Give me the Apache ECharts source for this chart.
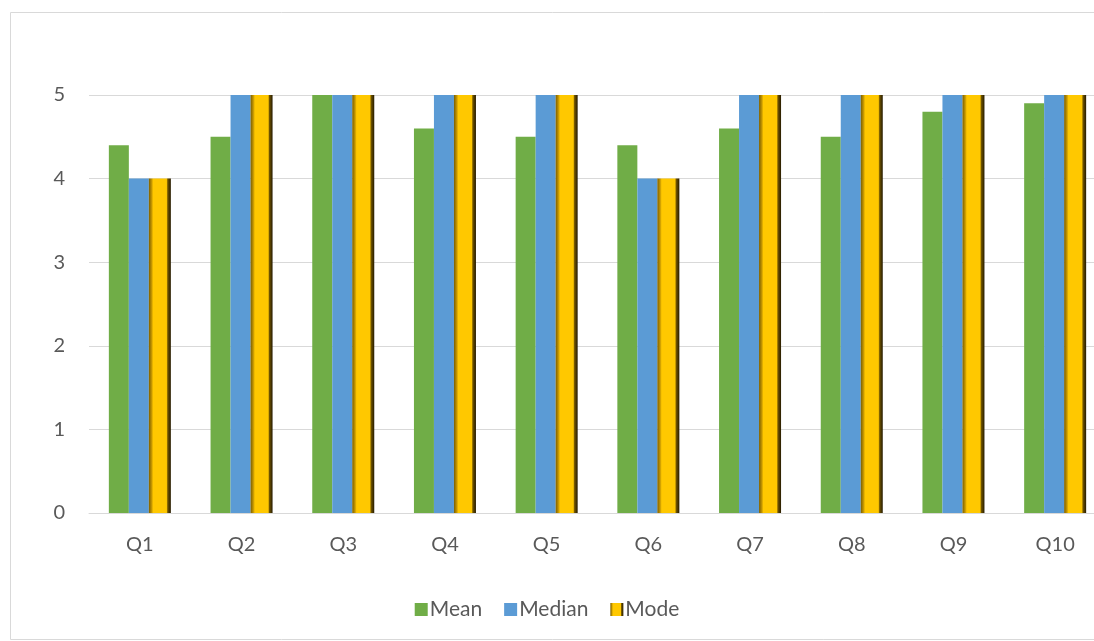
<!DOCTYPE html>
<html>
<head>
<meta charset="utf-8">
<script src="https://cdn.jsdelivr.net/npm/echarts@6/dist/echarts.min.js"></script>
<style>
  html, body { margin: 0; padding: 0; background: #fff; }
  #main { width: 1094px; height: 641px; }
</style>
</head>
<body>
<div id="main"></div>
<script>
var categories = ['Q1', 'Q2', 'Q3', 'Q4', 'Q5', 'Q6', 'Q7', 'Q8', 'Q9', 'Q10'];
var meanData = [4.4, 4.5, 5.0, 4.6, 4.5, 4.4, 4.6, 4.5, 4.8, 4.9];
var medianData = [4, 5, 5, 5, 5, 4, 5, 5, 5, 5];
var modeData = [4, 5, 5, 5, 5, 4, 5, 5, 5, 5];
var yTicks = [0, 1, 2, 3, 4, 5];

var goldBevel = new echarts.graphic.LinearGradient(0, 0, 1, 0, [
  { offset: 0, color: '#7a5e00' },
  { offset: 0.12, color: '#c09300' },
  { offset: 0.2, color: '#ffc800' },
  { offset: 0.8, color: '#ffc800' },
  { offset: 0.86, color: '#6e5300' },
  { offset: 1, color: '#251a00' }
]);

var myChart = echarts.init(document.getElementById('main'));
var option = {
  textStyle: { fontFamily: 'Lato, "Liberation Sans", sans-serif' },
  graphic: [{
    type: 'rect',
    left: 8, top: 10,
    shape: { width: 1100, height: 627 },
    style: { fill: 'none', stroke: '#d9d9d9', lineWidth: 1 },
    silent: true
  }],
  grid: { left: 89, top: 95, width: 1017, height: 418, outerBoundsMode: 'none', containLabel: false },
  legend: {
    bottom: 16,
    left: 'center',
    itemWidth: 13, itemHeight: 13, itemGap: 22,
    icon: 'rect',
    textStyle: { fontSize: 21, color: '#595959', padding: [0, 0, 0, -3] },
    data: ['Mean', 'Median', 'Mode']
  },
  xAxis: {
    type: 'category',
    data: categories,
    axisLine: { lineStyle: { color: '#d9d9d9', width: 1 } },
    axisTick: { show: false },
    axisLabel: { fontSize: 20, color: '#595959', margin: 22 }
  },
  yAxis: {
    type: 'value',
    min: yTicks[0], max: yTicks[yTicks.length - 1], interval: 1,
    axisLine: { show: false },
    axisTick: { show: false },
    splitLine: { lineStyle: { color: '#d9d9d9', width: 1 } },
    axisLabel: { fontSize: 20, color: '#595959', margin: 24 }
  },
  series: [
    { name: 'Mean', type: 'bar', data: meanData, barWidth: 20, barGap: '0%',
      itemStyle: { color: '#70ad47' } },
    { name: 'Median', type: 'bar', data: medianData, barWidth: 20, barGap: '0%',
      itemStyle: { color: '#5b9bd5' } },
    { name: 'Mode', type: 'bar', data: modeData, barWidth: 22, barGap: '0%',
      itemStyle: { color: goldBevel } }
  ]
};
myChart.setOption(option);
</script>
</body>
</html>
